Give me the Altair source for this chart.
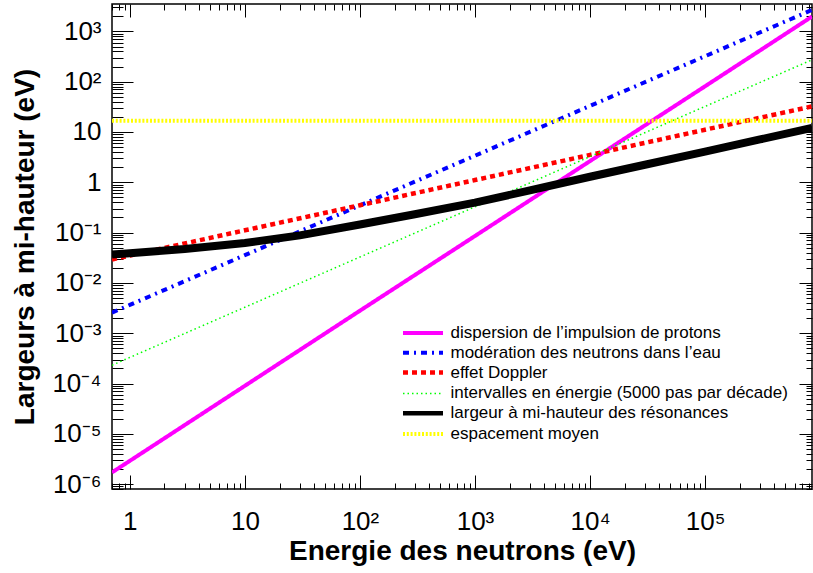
import altair as alt
import pandas as pd

# ---- series definitions -------------------------------------------------
NAMES = [
    "dispersion de l\u2019impulsion de protons",
    "modération des neutrons dans l\u2019eau",
    "effet Doppler",
    "intervalles en énergie (5000 pas par décade)",
    "largeur à mi-hauteur des résonances",
    "espacement moyen",
]
COLORS = ["#ff00ff", "#0000ff", "#ff0000", "#00ff00", "#000000", "#ffff00"]
DASHES = [[1, 0], [6, 5, 2, 5], [5, 4], [1.5, 3], [1, 0], [2, 1.8]]
WIDTHS = [4, 4, 4.5, 1.5, 4.6, 4]   # as drawn in the legend
RES_LINE_WIDTH = 8                  # the resonance curve is drawn thicker in the plot

# ---- values (energy in eV, width in eV) --------------------------------
E_STRAIGHT = [0.7, 1, 10, 100, 1e3, 1e4, 1e5, 8.5e5]
PROTON = [1.71e-6, 2.9e-6, 9.0e-5, 2.8e-3, 0.0855, 2.64, 81, 1970]
MODERATION = [2.56e-3, 3.65e-3, 0.0356, 0.347, 3.38, 33, 321, 2670]
DOPPLER = [0.0292, 0.035, 0.111, 0.35, 1.107, 3.5, 11.1, 32.2]
INTERVALLES = [2.31e-4, 3.3e-4, 3.28e-3, 0.0327, 0.325, 3.24, 32.2, 272]

E_RES = [0.7, 1, 3, 10, 30, 100, 300, 1e3, 3e3, 1e4, 3e4, 1e5, 3e5, 8.5e5]
RESONANCE = [0.0368, 0.039, 0.047, 0.062, 0.088, 0.145, 0.232, 0.395, 0.69,
             1.29, 2.23, 4.07, 7.1, 12.0]

E_ESP = [0.7, 8.5e5]
ESPACEMENT = [16.8, 16.8]

# ---- axes ---------------------------------------------------------------
X_DOMAIN = [0.7, 8.5e5]
Y_DOMAIN = [8e-7, 3500]
X_MAJOR = [1, 10, 100, 1e3, 1e4, 1e5]
X_LABELS = ["1", "10", "10²", "10³", "10⁴", "10⁵"]
Y_MAJOR = [1e-6, 1e-5, 1e-4, 1e-3, 1e-2, 1e-1, 1, 10, 100, 1e3]
Y_LABELS = ["10⁻⁶", "10⁻⁵", "10⁻⁴", "10⁻³", "10⁻²", "10⁻¹", "1", "10", "10²", "10³"]
X_MINOR = [k * 10.0 ** d for d in range(-1, 6) for k in range(2, 10)
           if X_DOMAIN[0] <= k * 10.0 ** d <= X_DOMAIN[1]]
Y_MINOR = [k * 10.0 ** d for d in range(-7, 4) for k in range(2, 10)
           if Y_DOMAIN[0] <= k * 10.0 ** d <= Y_DOMAIN[1]]

rows = []
for name, es, vs in [
    (NAMES[0], E_STRAIGHT, PROTON),
    (NAMES[1], E_STRAIGHT, MODERATION),
    (NAMES[2], E_STRAIGHT, DOPPLER),
    (NAMES[3], E_STRAIGHT, INTERVALLES),
    (NAMES[4], E_RES, RESONANCE),
    (NAMES[5], E_ESP, ESPACEMENT),
]:
    for e, v in zip(es, vs):
        rows.append({"serie": name, "E": e, "V": v})
df = pd.DataFrame(rows)

xscale = alt.Scale(type="log", domain=X_DOMAIN, nice=False)
yscale = alt.Scale(type="log", domain=Y_DOMAIN, nice=False)

x_expr = "[" + ",".join(f"'{s}'" for s in X_LABELS) + "][round(log(datum.value)/LN10)]"
y_expr = "[" + ",".join(f"'{s}'" for s in Y_LABELS) + "][round(log(datum.value)/LN10)+6]"

FONT = "Liberation Sans"

LEG = dict(
    title=None, orient="none", legendX=291, legendY=320.5,
    symbolType="M-5,0H5", symbolSize=64, symbolOffset=11.5,
    labelOffset=19, labelFontSize=17, labelFont=FONT, labelColor="black",
    labelLimit=600, rowPadding=1.8, padding=0,
)

base = alt.Chart(df)

lines = base.mark_line(clip=True).encode(
    x=alt.X("E:Q", scale=xscale, axis=alt.Axis(
        orient="bottom", values=X_MAJOR, labelExpr=x_expr, offset=-14, tickSize=14,
        domain=False, grid=False, labelFontSize=26, labelPadding=19,
        labelFlush=False, labelOverlap=False,
        title="Energie des neutrons (eV)", titleFontSize=28, titleFontWeight="bold",
        titlePadding=3)),
    y=alt.Y("V:Q", scale=yscale, axis=alt.Axis(
        orient="left", values=Y_MAJOR, labelExpr=y_expr, offset=-21, tickSize=21,
        domain=False, grid=False, labelFontSize=26, labelPadding=11,
        labelFlush=False, labelOverlap=False,
        title="Largeurs à mi-hauteur (eV)", titleFontSize=28, titleFontWeight="bold",
        titlePadding=12)),
    color=alt.Color("serie:N", scale=alt.Scale(domain=NAMES, range=COLORS),
                    legend=alt.Legend(**LEG)),
    strokeDash=alt.StrokeDash("serie:N", scale=alt.Scale(domain=NAMES, range=DASHES),
                              legend=alt.Legend(**LEG)),
    strokeWidth=alt.StrokeWidth("serie:N", scale=alt.Scale(type="ordinal", domain=NAMES, range=WIDTHS),
                                legend=alt.Legend(**LEG)),
)

# thicker resonance-width curve (same data, no extra axis or legend)
res_thick = base.transform_filter(alt.datum.serie == NAMES[4]).mark_line(
    clip=True, color="#000000", strokeWidth=RES_LINE_WIDTH
).encode(
    x=alt.X("E:Q", scale=xscale, axis=None),
    y=alt.Y("V:Q", scale=yscale, axis=None),
)


def tick_layer(xorient, xvals, xlen, yorient, yvals, ylen):
    return base.mark_point(opacity=0).encode(
        x=alt.X("E:Q", scale=xscale, axis=alt.Axis(
            orient=xorient, values=xvals, labels=False, offset=-xlen, tickSize=xlen,
            domain=False, grid=False, title=None)),
        y=alt.Y("V:Q", scale=yscale, axis=alt.Axis(
            orient=yorient, values=yvals, labels=False, offset=-ylen, tickSize=ylen,
            domain=False, grid=False, title=None)),
    )


minor_bl = tick_layer("bottom", X_MINOR, 6, "left", Y_MINOR, 11)
major_tr = tick_layer("top", X_MAJOR, 13, "right", Y_MAJOR, 13)
minor_tr = tick_layer("top", X_MINOR, 6, "right", Y_MINOR, 6)

chart = (
    alt.layer(lines, res_thick, minor_bl, major_tr, minor_tr)
    .resolve_axis(x="independent", y="independent")
    .properties(
        width=700, height=485,
        padding={"left": 112, "top": 4, "right": 1, "bottom": 80},
        autosize=alt.AutoSizeParams(type="none"),
        background="white",
    )
    .configure_view(stroke="black", strokeWidth=1.5)
    .configure_axis(
        labelFont=FONT, titleFont=FONT, labelColor="black", titleColor="black",
        tickColor="black", tickWidth=1, grid=False,
    )
)

chart.save("out.html", embed_options={"renderer": "svg", "actions": False})
